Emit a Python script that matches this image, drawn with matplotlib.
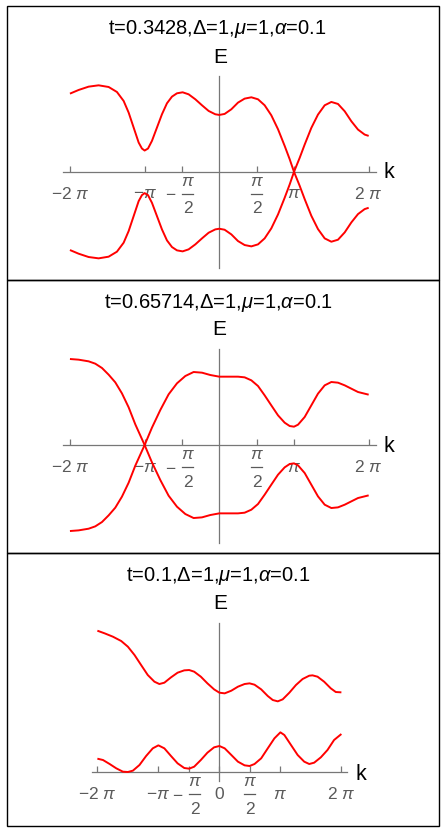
import matplotlib
matplotlib.use("Agg")
import matplotlib.pyplot as plt
from matplotlib.patches import Rectangle
from matplotlib.transforms import offset_copy
import numpy as np

plt.rcParams['font.family'] = ['Liberation Sans', 'DejaVu Sans']
plt.rcParams['mathtext.fontset'] = 'custom'
plt.rcParams['mathtext.rm'] = 'Liberation Sans'
plt.rcParams['mathtext.it'] = 'Liberation Sans:italic'
plt.rcParams['mathtext.bf'] = 'Liberation Sans:bold'

# ---- data: k in units of pi, E in arbitrary units ----
# t = 0.3428
k1 = [-2.0, -1.884, -1.75, -1.616, -1.482, -1.371, -1.281, -1.214, -1.147, -1.080,
      -1.036, -1.0, -0.955, -0.902, -0.835, -0.768, -0.701, -0.634, -0.567, -0.491,
      -0.411, -0.321, -0.232, -0.143, -0.054, 0.0, 0.071, 0.161, 0.25, 0.339,
      0.429, 0.518, 0.607, 0.696, 0.786, 0.875, 0.942, 1.0, 1.076, 1.143,
      1.232, 1.321, 1.411, 1.5, 1.589, 1.679, 1.768, 1.857, 1.946, 2.0]
E1_a = [2.35, 2.46, 2.56, 2.60, 2.55, 2.40, 2.13, 1.78, 1.33, 0.88,
        0.70, 0.64, 0.70, 0.93, 1.33, 1.73, 2.06, 2.26, 2.36, 2.39,
        2.33, 2.18, 2.00, 1.83, 1.73, 1.71, 1.74, 1.88, 2.08, 2.20,
        2.24, 2.18, 2.00, 1.70, 1.28, 0.78, 0.38, 0.0, -0.42, -0.82,
        -1.32, -1.72, -2.00, -2.10, -2.04, -1.82, -1.52, -1.27, -1.12, -1.08]
E1_b = [-2.35, -2.46, -2.56, -2.60, -2.55, -2.40, -2.13, -1.78, -1.33, -0.88,
        -0.70, -0.64, -0.70, -0.93, -1.33, -1.73, -2.06, -2.26, -2.36, -2.39,
        -2.33, -2.18, -2.00, -1.83, -1.73, -1.71, -1.74, -1.88, -2.08, -2.20,
        -2.24, -2.18, -2.00, -1.70, -1.28, -0.78, -0.38, 0.0, 0.42, 0.82,
        1.32, 1.72, 2.00, 2.10, 2.04, 1.82, 1.52, 1.27, 1.12, 1.08]

# t = 0.65714
k2 = [-2.0, -1.884, -1.75, -1.661, -1.571, -1.482, -1.393, -1.304, -1.214, -1.125,
      -1.0, -0.902, -0.79, -0.679, -0.567, -0.455, -0.344, -0.232, -0.121, 0.0,
      0.116, 0.25, 0.339, 0.429, 0.518, 0.607, 0.696, 0.786, 0.875, 0.942,
      1.0, 1.054, 1.143, 1.232, 1.321, 1.411, 1.5, 1.589, 1.679, 1.768,
      1.857, 1.946, 2.0]
E2_a = [2.58, 2.56, 2.51, 2.44, 2.31, 2.11, 1.88, 1.55, 1.13, 0.62,
        0.0, -0.52, -1.05, -1.52, -1.85, -2.07, -2.19, -2.17, -2.10, -2.05,
        -2.05, -2.05, -2.03, -1.94, -1.77, -1.49, -1.19, -0.89, -0.67, -0.57,
        -0.55, -0.61, -0.84, -1.19, -1.54, -1.79, -1.89, -1.87, -1.79, -1.69,
        -1.59, -1.54, -1.51]
E2_b = [-2.58, -2.56, -2.51, -2.44, -2.31, -2.11, -1.88, -1.55, -1.13, -0.62,
        0.0, 0.52, 1.05, 1.52, 1.85, 2.07, 2.19, 2.17, 2.10, 2.05,
        2.05, 2.05, 2.03, 1.94, 1.77, 1.49, 1.19, 0.89, 0.67, 0.57,
        0.55, 0.61, 0.84, 1.19, 1.54, 1.79, 1.89, 1.87, 1.79, 1.69,
        1.59, 1.54, 1.51]

# t = 0.1
k3 = [-2.0, -1.880, -1.745, -1.609, -1.5, -1.391, -1.283, -1.174, -1.065, -0.984,
      -0.902, -0.793, -0.685, -0.576, -0.495, -0.413, -0.304, -0.196, -0.087, 0.0,
      0.087, 0.196, 0.304, 0.413, 0.495, 0.576, 0.685, 0.793, 0.875, 0.957,
      1.038, 1.147, 1.255, 1.364, 1.473, 1.527, 1.609, 1.717, 1.826, 1.908, 2.0]
E3_up = [4.24, 4.16, 4.06, 3.93, 3.76, 3.51, 3.21, 2.91, 2.71, 2.64,
         2.68, 2.84, 2.98, 3.05, 3.06, 3.01, 2.86, 2.66, 2.48, 2.38,
         2.36, 2.44, 2.56, 2.64, 2.66, 2.62, 2.48, 2.28, 2.16, 2.12,
         2.18, 2.38, 2.61, 2.79, 2.89, 2.90, 2.86, 2.71, 2.51, 2.40, 2.39]
k3_lo = [-2.0, -1.908, -1.799, -1.690, -1.582, -1.5, -1.418, -1.310, -1.201, -1.092,
         -1.0, -0.902, -0.793, -0.685, -0.576, -0.495, -0.413, -0.304, -0.196, -0.087,
         0.0, 0.087, 0.196, 0.304, 0.413, 0.495, 0.576, 0.685, 0.793, 0.902,
         1.0, 1.065, 1.174, 1.283, 1.391, 1.473, 1.554, 1.663, 1.772, 1.880, 2.0]
E3_lo = [0.40, 0.36, 0.24, 0.11, 0.01, 0.0, 0.04, 0.21, 0.48, 0.71,
         0.80, 0.71, 0.48, 0.26, 0.12, 0.10, 0.16, 0.36, 0.58, 0.74,
         0.78, 0.71, 0.51, 0.31, 0.20, 0.18, 0.24, 0.41, 0.71, 1.01,
         1.19, 1.11, 0.81, 0.51, 0.31, 0.24, 0.28, 0.44, 0.66, 0.96, 1.14]

titles = ["t=0.3428,Δ=1,$\\mu$=1,$\\alpha$=0.1",
          "t=0.65714,Δ=1,$\\mu$=1,$\\alpha$=0.1",
          "t=0.1,Δ=1,$\\mu$=1,$\\alpha$=0.1"]

# "frac" / "-frac" mean a stacked pi over 2 label
ticks_a = [-2, -1, -0.5, 0.5, 1, 2]
labels_a = ["$-2\\ \\pi$", "$-\\pi$", "-frac", "frac", "$\\pi$", "$2\\ \\pi$"]
ticks_b = [-2, -1, -0.5, 0, 0.5, 1, 2]
labels_b = ["$-2\\ \\pi$", "$-\\pi$", "-frac", "0", "frac", "$\\pi$", "$2\\ \\pi$"]

W, H = 447, 833
fig = plt.figure(figsize=(W / 100, H / 100), dpi=100)

AXIS_GRAY = '#777777'
LABEL_GRAY = '#5a5a5a'
TICK_FS = 12.5
LAB_DY = -22   # pixels from the axis line to the label centre


def tick_text(ax, t, s, dx, dy):
    ax.annotate(s, (t * np.pi, 0), xytext=(dx, dy), textcoords='offset pixels',
                ha='center', va='center', fontsize=TICK_FS, color=LABEL_GRAY, zorder=3)


def add_panel(box, xlim, ylim, curves, ticks, labels, title, title_xy, e_xy, k_xy):
    x0, y0, x1, y1 = box
    ax = fig.add_axes([x0 / W, 1 - y1 / H, (x1 - x0) / W, (y1 - y0) / H])
    ax.set_xlim(xlim[0] * np.pi, xlim[1] * np.pi)
    ax.set_ylim(*ylim)
    ax.patch.set_alpha(0)
    for s in ['top', 'right']:
        ax.spines[s].set_visible(False)
    for s in ['left', 'bottom']:
        ax.spines[s].set_position(('data', 0))
        ax.spines[s].set_color(AXIS_GRAY)
        ax.spines[s].set_linewidth(0.9)
    ax.tick_params(axis='y', left=False, labelleft=False)
    ax.set_xticks([t * np.pi for t in ticks])
    ax.tick_params(axis='x', direction='in', length=4, width=0.9,
                   color=AXIS_GRAY, labelbottom=False)

    ppu = (x1 - x0) / ((xlim[1] - xlim[0]) * np.pi)   # pixels per data unit
    bar_tr = offset_copy(ax.transData, fig=fig, x=0, y=LAB_DY, units='dots')
    for t, lab in zip(ticks, labels):
        if lab.endswith('frac'):
            dx = 0
            if lab.startswith('-'):
                dx = 6
                tick_text(ax, t, '$-$', -11, LAB_DY)
            tick_text(ax, t, '$\\pi$', dx, LAB_DY + 12.5)
            tick_text(ax, t, '2', dx, LAB_DY - 15)
            cx = t * np.pi + dx / ppu
            hw = 5.5 / ppu
            ax.plot([cx - hw, cx + hw], [0, 0], transform=bar_tr, color=LABEL_GRAY,
                    lw=0.9, clip_on=False, zorder=3)
        else:
            tick_text(ax, t, lab, 0, LAB_DY)

    for kk, ee in curves:
        ax.plot(np.array(kk) * np.pi, ee, color='#ff0000', lw=1.4, zorder=4,
                solid_joinstyle='round', solid_capstyle='butt')
    fig.text(title_xy[0] / W, 1 - title_xy[1] / H, title, ha='center', va='center',
             fontsize=14.5, color='black')
    fig.text(e_xy[0] / W, 1 - e_xy[1] / H, "E", ha='center', va='center',
             fontsize=15, color='black')
    fig.text(k_xy[0] / W, 1 - k_xy[1] / H, "k", ha='center', va='center',
             fontsize=15.5, color='black')
    return ax


add_panel((63.3, 76, 375.7, 268), (-2.089, 2.094), (-2.89, 2.88),
          [(k1, E1_a), (k1, E1_b)], ticks_a, labels_a, titles[0],
          (217, 28.5), (220, 57.5), (388.5, 172.5))
add_panel((63.3, 349, 375.7, 542.7), (-2.089, 2.094), (-2.93, 2.88),
          [(k2, E2_a), (k2, E2_b)], ticks_a, labels_a, titles[1],
          (218, 303), (219.7, 330), (388.5, 446.5))
add_panel((91.7, 622.7, 346.7, 781), (-2.093, 2.087), (-0.27, 4.48),
          [(k3, E3_up), (k3_lo, E3_lo)], ticks_b, labels_b, titles[2],
          (218, 576), (220, 603.5), (361, 774))

# panel frames
for top, bot in [(6, 279.5), (279.5, 553), (553, 826)]:
    fig.add_artist(Rectangle((7.3 / W, 1 - bot / H), (438.7 - 7.3) / W, (bot - top) / H,
                             transform=fig.transFigure, fill=False,
                             edgecolor='black', lw=1.0))

fig.savefig("out.png", dpi=100)
